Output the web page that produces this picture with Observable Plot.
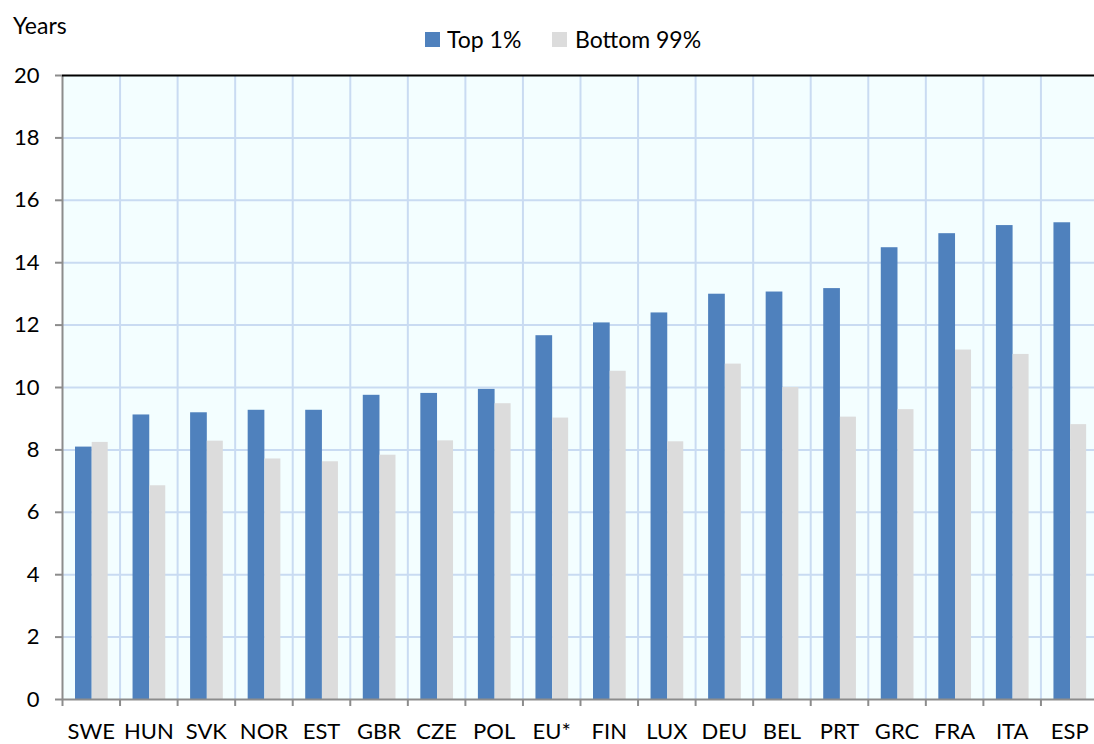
<!DOCTYPE html>
<html><head><meta charset="utf-8">
<script src="https://cdn.jsdelivr.net/npm/d3@7"></script>
<script src="https://cdn.jsdelivr.net/npm/@observablehq/plot@0.6"></script>
<style>
body{margin:0;background:#fff;font-family:Lato,"Open Sans",sans-serif;overflow:hidden}
#wrap{position:relative;width:1094px;height:744px;overflow:hidden}
.t{position:absolute;font-size:23px;line-height:23px;color:#000;white-space:nowrap}
.sw{position:absolute;width:15px;height:15px}
</style></head><body>
<div id="wrap"></div>
<script>
const countries = ["SWE","HUN","SVK","NOR","EST","GBR","CZE","POL","EU*","FIN","LUX","DEU","BEL","PRT","GRC","FRA","ITA","ESP"];
const top1 =     [8.09, 9.12, 9.19, 9.27, 9.27, 9.75, 9.81, 9.94, 11.66, 12.07, 12.39, 12.99, 13.06, 13.17, 14.48, 14.93, 15.19, 15.28];
const bottom99 = [8.24, 6.85, 8.28, 7.71, 7.62, 7.83, 8.29, 9.48, 9.02, 10.52, 8.26, 10.75, 10.0, 9.05, 9.29, 11.2, 11.06, 8.81];
const seriesNames = ["Top 1%", "Bottom 99%"];
const yTicks = [0,2,4,6,8,10,12,14,16,18,20];
const yGrid = [2,4,6,8,10,12,14,16,18];
const colors = {"Top 1%":"#4f81bd","Bottom 99%":"#dcdcdc"};
const gridColor = "#c9dbf2";
const bgColor = "#f3feff";

const W = 1094, H = 744, ML = 62, MR = -4, MT = 75, MB = 45;
const step = (W - ML - MR) / countries.length;

const topData = countries.map((c,i)=>({country:c, value:top1[i]}));
const botData = countries.map((c,i)=>({country:c, value:bottom99[i]}));

const chart = Plot.plot({
  width: W, height: H,
  marginLeft: ML, marginRight: MR, marginTop: MT, marginBottom: MB,
  style: {fontFamily: "Lato, 'Open Sans', sans-serif", fontSize: "22px", color: "#000", background: "transparent"},
  x: {domain: countries, padding: 0, round: false, axis: null, label: null},
  y: {domain: [0,20], axis: null, label: null},
  marks: [
    Plot.frame({fill: bgColor, stroke: null}),
    Plot.ruleY(yGrid, {stroke: gridColor, strokeWidth: 2}),
    Plot.ruleX(countries.slice(1), {x: d=>d, y1: 0, y2: 20, dx: -step/2, stroke: gridColor, strokeWidth: 2}),
    Plot.barY(topData, {x: "country", y: "value", fill: colors["Top 1%"], insetLeft: 13, insetRight: step - 29.7}),
    Plot.barY(botData, {x: "country", y: "value", fill: colors["Bottom 99%"], insetLeft: 29.7, insetRight: step - 45.7}),
    Plot.ruleX(countries, {x: d=>d, y1: 0, y2: 0, dx: -step/2, insetBottom: -7, stroke: "#8c8c8c", strokeWidth: 2}),
    Plot.axisX({tickSize: 0, tickPadding: 24, fontSize: 22, label: null}),
    Plot.axisY({ticks: yTicks, tickSize: 7, tickPadding: 16, stroke: "#8c8c8c", strokeWidth: 2, fontSize: 22, label: null}),
    Plot.ruleY([0], {stroke: "#8c8c8c", strokeWidth: 2}),
    Plot.ruleX([countries[0]], {x: d=>d, dx: -step/2, y1: 0, y2: 20, stroke: "#8c8c8c", strokeWidth: 2}),
    Plot.ruleY([20], {stroke: "#000", strokeWidth: 2})
  ]
});
const wrap = document.getElementById("wrap");
wrap.appendChild(chart);

function addText(txt, left, top){ const d=document.createElement("div"); d.className="t"; d.textContent=txt; d.style.left=left+"px"; d.style.top=top+"px"; wrap.appendChild(d); }
function addSwatch(color, left, top){ const d=document.createElement("div"); d.className="sw"; d.style.background=color; d.style.left=left+"px"; d.style.top=top+"px"; wrap.appendChild(d); }
addText("Years", 13, 14);
addSwatch(colors[seriesNames[0]], 425, 32);
addText(seriesNames[0], 447, 28);
addSwatch(colors[seriesNames[1]], 552, 32);
addText(seriesNames[1], 575, 28);
chart.style.position="absolute"; chart.style.left="0"; chart.style.top="0";
</script>
</body></html>
